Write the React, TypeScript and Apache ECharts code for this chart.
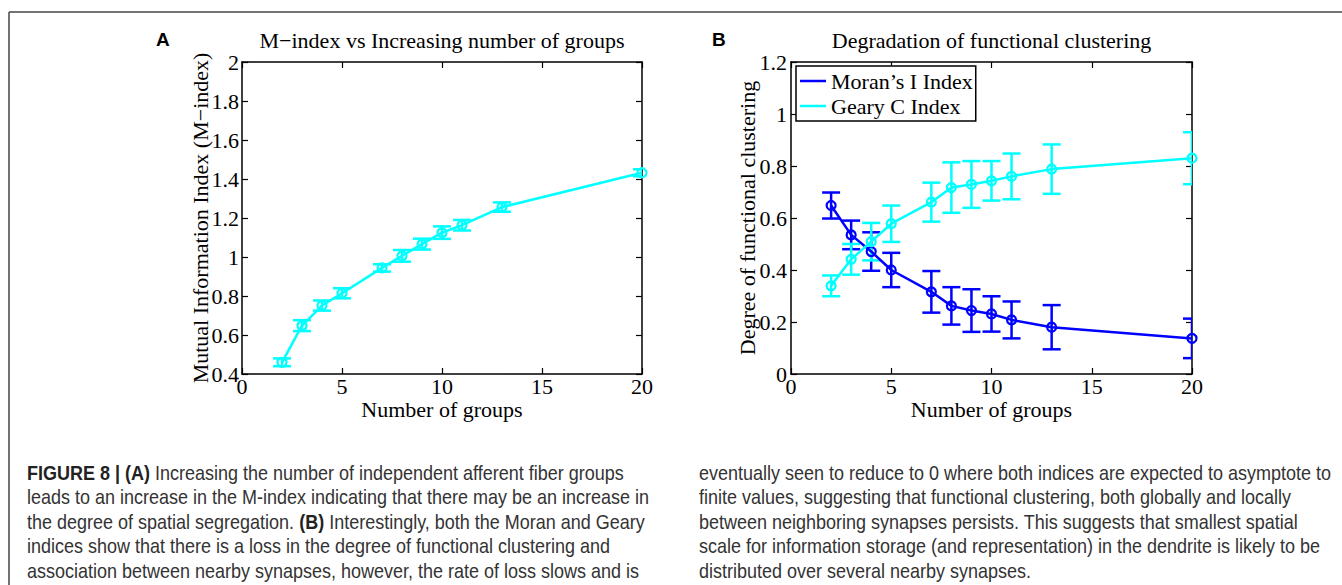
import React, { useEffect, useRef } from "react";
import * as echarts from "echarts";

// ---- data ----
const groups = [2, 3, 4, 5, 7, 8, 9, 10, 11, 13, 20];
const mIndexMean = [0.46, 0.648, 0.751, 0.814, 0.944, 1.006, 1.066, 1.125, 1.163, 1.256, 1.432];
const mIndexErr = [0.02, 0.028, 0.026, 0.026, 0.019, 0.03, 0.028, 0.032, 0.027, 0.024, 0.018];
const moranMean = [0.648, 0.535, 0.471, 0.4, 0.316, 0.262, 0.244, 0.231, 0.208, 0.18, 0.137];
const moranErr = [0.05, 0.055, 0.074, 0.066, 0.08, 0.072, 0.082, 0.068, 0.071, 0.085, 0.076];
const gearyMean = [0.339, 0.441, 0.509, 0.578, 0.661, 0.717, 0.729, 0.743, 0.76, 0.788, 0.83];
const gearyErr = [0.04, 0.059, 0.072, 0.07, 0.075, 0.097, 0.09, 0.076, 0.088, 0.095, 0.1];

const seriesNames = ["Moran\u2019s I Index", "Geary C Index"];
const titles = ["M\u2212index vs Increasing number of groups", "Degradation of functional clustering"];
const panelLabels = ["A", "B"];
const xAxisName = "Number of groups";
const yAxisNames = ["Mutual Information Index (M\u2212index)", "Degree of functional clustering"];

const captionLeft = [
  "{b|FIGURE 8 | (A)} Increasing the number of independent afferent fiber groups",
  "leads to an increase in the M-index indicating that there may be an increase in",
  "the degree of spatial segregation. {b|(B)} Interestingly, both the Moran and Geary",
  "indices show that there is a loss in the degree of functional clustering and",
  "association between nearby synapses, however, the rate of loss slows and is",
];
const captionRight = [
  "eventually seen to reduce to 0 where both indices are expected to asymptote to",
  "finite values, suggesting that functional clustering, both globally and locally",
  "between neighboring synapses persists. This suggests that smallest spatial",
  "scale for information storage (and representation) in the dendrite is likely to be",
  "distributed over several nearby synapses.",
];

const CYAN = "#00FFFF";
const BLUE = "#0000FF";
const SERIF = "'Liberation Serif', 'Times New Roman', serif";
const SANS = "'Liberation Sans', Arial, sans-serif";

const axisLine = { show: true, onZero: false, lineStyle: { color: "#000", width: 1.5 } };
const axisTick = { show: true, inside: true, length: 6, lineStyle: { color: "#000", width: 1.2 } };
const labelStyle = { color: "#000", fontFamily: SERIF, fontSize: 22 };

function xAxesFor(gridIndex: number) {
  return [
    {
      type: "value", gridIndex, min: 0, max: 20, interval: 5, position: "bottom",
      axisLine, axisTick, splitLine: { show: false },
      axisLabel: { ...labelStyle, margin: 1 },
      name: xAxisName, nameLocation: "middle", nameGap: 24, nameMoveOverlap: false,
      nameTextStyle: { ...labelStyle },
    },
    {
      type: "value", gridIndex, min: 0, max: 20, interval: 5, position: "top",
      axisLine, axisTick, splitLine: { show: false }, axisLabel: { show: false },
    },
  ];
}

function yAxesFor(gridIndex: number, min: number, max: number, name: string, gap: number, margin: number) {
  return [
    {
      type: "value", gridIndex, min, max, interval: 0.2, position: "left",
      axisLine, axisTick, splitLine: { show: false },
      axisLabel: { ...labelStyle, margin },
      name, nameLocation: "middle", nameGap: gap, nameMoveOverlap: false,
      nameTextStyle: { ...labelStyle },
    },
    {
      type: "value", gridIndex, min, max, interval: 0.2, position: "right",
      axisLine, axisTick, splitLine: { show: false }, axisLabel: { show: false },
    },
  ];
}

function errorSeries(axisIdx: number, color: string, means: number[], errs: number[]) {
  return {
    type: "custom",
    xAxisIndex: axisIdx * 2,
    yAxisIndex: axisIdx * 2,
    clip: true,
    silent: true,
    z: 2,
    data: groups.map((g, i) => [g, means[i] - errs[i], means[i] + errs[i]]),
    encode: { x: 0, y: [1, 2] },
    renderItem: (_params: any, api: any) => {
      const lo = api.coord([api.value(0), api.value(1)]);
      const hi = api.coord([api.value(0), api.value(2)]);
      const w = 9;
      const style = { stroke: color, lineWidth: 2.5 };
      return {
        type: "group",
        children: [
          { type: "line", shape: { x1: lo[0], y1: lo[1], x2: hi[0], y2: hi[1] }, style },
          { type: "line", shape: { x1: lo[0] - w, y1: lo[1], x2: lo[0] + w, y2: lo[1] }, style },
          { type: "line", shape: { x1: hi[0] - w, y1: hi[1], x2: hi[0] + w, y2: hi[1] }, style },
        ],
      };
    },
  };
}

function lineSeries(axisIdx: number, name: string, color: string, means: number[]) {
  return {
    type: "line",
    name,
    xAxisIndex: axisIdx * 2,
    yAxisIndex: axisIdx * 2,
    data: groups.map((g, i) => [g, means[i]]),
    symbol: "circle",
    symbolSize: 9,
    color,
    lineStyle: { color, width: 2.5 },
    itemStyle: { color: "rgba(0,0,0,0)", borderColor: color, borderWidth: 2.2 },
    clip: false,
    z: 3,
    silent: true,
  };
}

const CAP_SCALE = 0.9;
const CAP_FONT = 20;
const CAP_Y0 = 473;
const CAP_DY = 24.5;

function captionTexts(lines: string[], x: number) {
  return lines.map((t, i) => ({
    type: "text",
    x,
    y: CAP_Y0 + i * CAP_DY,
    scaleX: CAP_SCALE,
    style: {
      text: t,
      fill: "#333",
      font: `${CAP_FONT}px ${SANS}`,
      fontSize: CAP_FONT,
      fontFamily: SANS,
      verticalAlign: "middle",
      align: "left",
      rich: { b: { fontWeight: "bold", fontSize: CAP_FONT, fontFamily: SANS, fill: "#222" } },
    },
  }));
}

export default function App() {
  const ref = useRef<HTMLDivElement>(null);
  useEffect(() => {
    if (!ref.current) return;
    const chart = echarts.init(ref.current, undefined, { renderer: "svg" });
    const option: any = {
      animation: false,
      backgroundColor: "#fff",
      grid: [
        { left: 242, top: 62, width: 400, height: 312 },
        { left: 791, top: 62, width: 401, height: 312 },
      ],
      xAxis: [...xAxesFor(0), ...xAxesFor(1)],
      yAxis: [
        ...yAxesFor(0, 0.4, 2, yAxisNames[0], 31, 3),
        ...yAxesFor(1, 0, 1.2, yAxisNames[1], 33, 4),
      ],
      legend: {
        show: true,
        data: [
          { name: seriesNames[0], itemStyle: { color: BLUE, borderWidth: 0 } },
          { name: seriesNames[1], itemStyle: { color: CYAN, borderWidth: 0 } },
        ],
        orient: "vertical",
        left: 796,
        top: 66,
        icon: "rect",
        itemWidth: 26,
        itemHeight: 2.5,
        itemGap: 3,
        padding: [4, 3, 4, 4],
        borderColor: "#000",
        borderWidth: 1.5,
        backgroundColor: "#fff",
        selectedMode: false,
        textStyle: { color: "#000", fontFamily: SERIF, fontSize: 22 },
      },
      series: [
        errorSeries(0, CYAN, mIndexMean, mIndexErr),
        lineSeries(0, "M-index", CYAN, mIndexMean),
        errorSeries(1, BLUE, moranMean, moranErr),
        lineSeries(1, seriesNames[0], BLUE, moranMean),
        errorSeries(1, CYAN, gearyMean, gearyErr),
        lineSeries(1, seriesNames[1], CYAN, gearyMean),
      ],
      graphic: [
        { type: "line", shape: { x1: 9, y1: 12, x2: 1342, y2: 12 }, style: { stroke: "#444", lineWidth: 1.5 } },
        { type: "line", shape: { x1: 9, y1: 12, x2: 9, y2: 585 }, style: { stroke: "#444", lineWidth: 1.5 } },
        {
          type: "text", x: 156, y: 39,
          style: { text: panelLabels[0], font: `bold 19px ${SANS}`, fill: "#000", verticalAlign: "middle", align: "left" },
        },
        {
          type: "text", x: 712, y: 39,
          style: { text: panelLabels[1], font: `bold 19px ${SANS}`, fill: "#000", verticalAlign: "middle", align: "left" },
        },
        {
          type: "text", x: 442, y: 40,
          style: { text: titles[0], font: `22px ${SERIF}`, fill: "#000", verticalAlign: "middle", align: "center" },
        },
        {
          type: "text", x: 991.5, y: 40,
          style: { text: titles[1], font: `22px ${SERIF}`, fill: "#000", verticalAlign: "middle", align: "center" },
        },
        ...captionTexts(captionLeft, 27),
        ...captionTexts(captionRight, 699),
      ],
    };
    chart.setOption(option);
    return () => chart.dispose();
  }, []);
  return (
    <div
      ref={ref}
      style={{ position: "absolute", left: 0, top: 0, width: 1342, height: 585, background: "#fff" }}
    />
  );
}
